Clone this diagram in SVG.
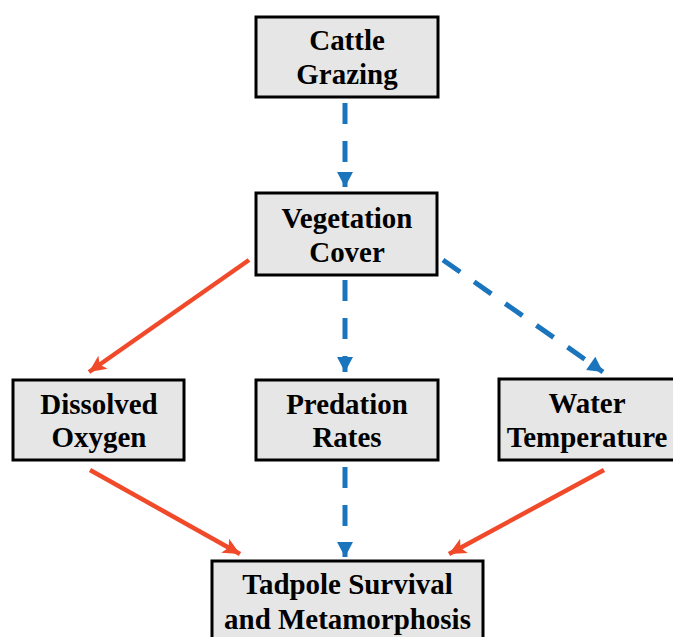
<svg xmlns="http://www.w3.org/2000/svg" width="673" height="637" viewBox="0 0 673 637">
<defs>
<style>
.box{fill:#e6e6e6;stroke:#000;stroke-width:3}
.t{font-family:"Liberation Serif","Times New Roman",serif;font-weight:bold;font-size:30px;fill:#000;text-anchor:middle}
.red{stroke:#f04a2a;stroke-width:4.5;fill:none}
.blue{stroke:#1b75bc;stroke-width:5;fill:none;stroke-dasharray:21 17}
</style>
<marker id="ar" markerUnits="userSpaceOnUse" markerWidth="20" markerHeight="20" viewBox="0 0 20 20" refX="18" refY="10" orient="auto">
<path d="M1,2 L18,10 L1,18 L5,10 Z" fill="#f04a2a"/>
</marker>
<marker id="ab" markerUnits="userSpaceOnUse" markerWidth="20" markerHeight="20" viewBox="0 0 20 20" refX="17" refY="10" orient="auto">
<path d="M2,2 L17,10 L2,18 Z" fill="#1b75bc"/>
</marker>
</defs>
<rect width="673" height="637" fill="#fff"/>
<g id="connectors">
<line class="blue" x1="345" y1="103" x2="345" y2="187" marker-end="url(#ab)"/>
<line class="red" x1="249" y1="260" x2="89" y2="372" marker-end="url(#ar)"/>
<line class="blue" x1="345" y1="280" x2="345" y2="372" marker-end="url(#ab)"/>
<line class="blue" x1="443" y1="260" x2="603" y2="372" marker-end="url(#ab)"/>
<line class="red" x1="90" y1="470" x2="240" y2="554" marker-end="url(#ar)"/>
<line class="blue" x1="345" y1="467" x2="345" y2="557" marker-end="url(#ab)"/>
<line class="red" x1="604" y1="470" x2="449" y2="554" marker-end="url(#ar)"/>
</g>
<g id="cattle">
<rect class="box" x="256" y="17" width="182" height="80"/>
<text class="t" transform="translate(347 50) scale(0.965 1)">Cattle</text>
<text class="t" transform="translate(347 84) scale(0.965 1)">Grazing</text>
</g>
<g id="vegetation">
<rect class="box" x="256" y="193" width="181" height="82"/>
<text class="t" transform="translate(347 228) scale(0.965 1)">Vegetation</text>
<text class="t" transform="translate(347 262) scale(0.965 1)">Cover</text>
</g>
<g id="oxygen">
<rect class="box" x="13" y="380" width="171" height="80"/>
<text class="t" transform="translate(99 414) scale(0.965 1)">Dissolved</text>
<text class="t" transform="translate(99 447) scale(0.965 1)">Oxygen</text>
</g>
<g id="predation">
<rect class="box" x="256" y="380" width="182" height="80"/>
<text class="t" transform="translate(347 414) scale(0.965 1)">Predation</text>
<text class="t" transform="translate(347 447) scale(0.965 1)">Rates</text>
</g>
<g id="temperature">
<rect class="box" x="499" y="379" width="177" height="81"/>
<text class="t" transform="translate(587 413) scale(0.965 1)">Water</text>
<text class="t" transform="translate(587 447) scale(0.965 1)">Temperature</text>
</g>
<g id="tadpole">
<rect class="box" x="212" y="561" width="271" height="82"/>
<text class="t" transform="translate(347.5 594) scale(0.965 1)">Tadpole Survival</text>
<text class="t" transform="translate(347.5 629) scale(0.965 1)">and Metamorphosis</text>
</g>
</svg>
